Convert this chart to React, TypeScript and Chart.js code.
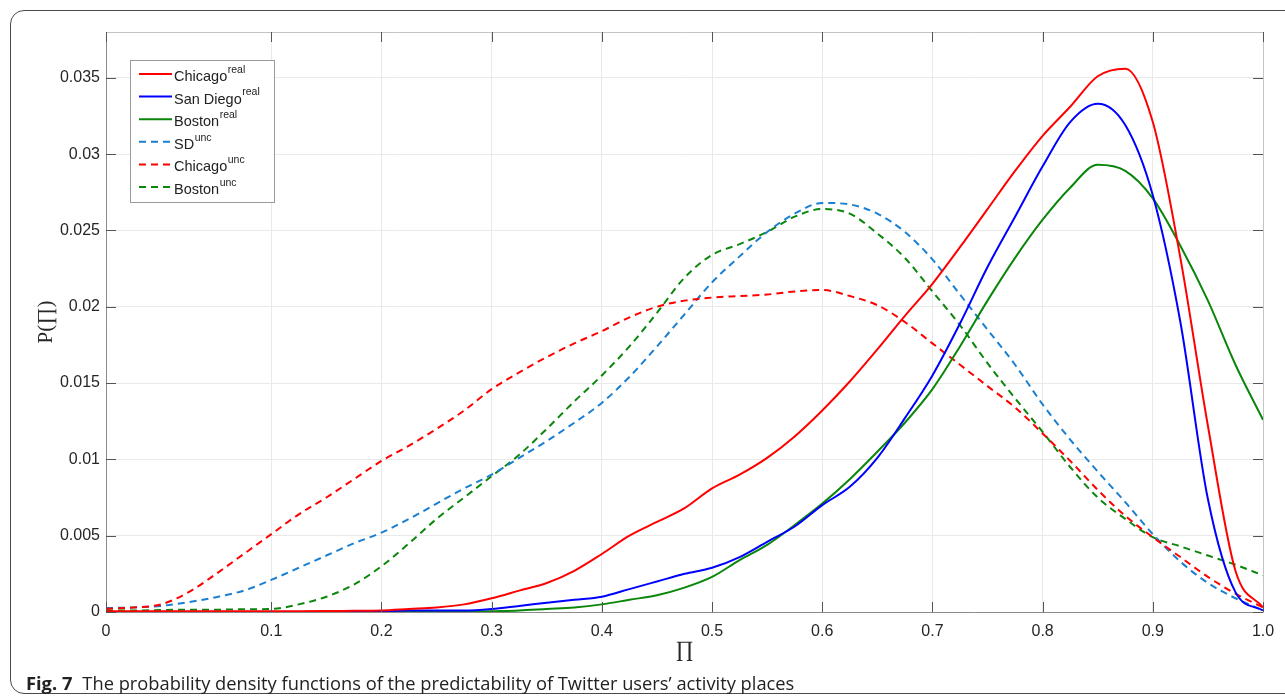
import React, { useEffect, useRef } from 'react';
import { Chart, registerables } from 'chart.js';

Chart.register(...registerables);

// Π axis positions (the axis starts at -0.05, which is labelled "0")
const xValues = [
  -0.05, -0.025, 0, 0.025, 0.05, 0.075, 0.1, 0.125, 0.15, 0.175, 0.2, 0.225, 0.25, 0.275,
  0.3, 0.325, 0.35, 0.375, 0.4, 0.425, 0.45, 0.475, 0.5, 0.525, 0.55, 0.575, 0.6, 0.625,
  0.65, 0.675, 0.7, 0.725, 0.75, 0.775, 0.8, 0.825, 0.85, 0.875, 0.9, 0.925, 0.95, 0.975, 1.0,
];

const chicagoReal = [
  0.00005, 0.00005, 0.00005, 0.00005, 0.00005, 0.00005, 0.00005, 0.00005, 0.00006, 0.00008,
  0.0001, 0.0002, 0.0003, 0.0005, 0.0009, 0.0014, 0.0019, 0.0027, 0.0038, 0.005,
  0.0059, 0.0068, 0.0081, 0.009, 0.0101, 0.0115, 0.0132, 0.0151, 0.0172, 0.0194,
  0.0215, 0.0239, 0.0264, 0.0289, 0.0312, 0.0331, 0.0351, 0.0356, 0.0321, 0.0232,
  0.0122, 0.0027, 0.0003,
];

const sanDiegoReal = [
  0, 0, 0, 0, 0, 0, 0, 0, 0, 0,
  0.00005, 0.0001, 0.0001, 0.0001, 0.0002, 0.0004, 0.0006, 0.0008, 0.001, 0.0015,
  0.002, 0.0025, 0.0029, 0.0036, 0.0046, 0.0056, 0.007, 0.0082, 0.0101, 0.0127,
  0.0155, 0.0189, 0.0226, 0.0259, 0.0292, 0.0321, 0.0333, 0.0319, 0.0273, 0.019,
  0.0074, 0.0013, 0.0001,
];

const bostonReal = [
  0, 0, 0, 0, 0, 0, 0, 0, 0, 0,
  0, 0, 0, 0, 0.00005, 0.0001, 0.0002, 0.0003, 0.0005, 0.0008,
  0.0011, 0.0016, 0.0023, 0.0034, 0.0044, 0.0057, 0.0071, 0.0087, 0.0105, 0.0124,
  0.0146, 0.0174, 0.0204, 0.0232, 0.0257, 0.0278, 0.0293, 0.0289, 0.0271, 0.024,
  0.0204, 0.0162, 0.0126,
];

const sdUnc = [
  0.00026, 0.0003, 0.0004, 0.00065, 0.00097, 0.0014, 0.0021, 0.0029, 0.0037, 0.0045,
  0.0052, 0.0061, 0.0071, 0.0081, 0.009, 0.0101, 0.0112, 0.0124, 0.0137, 0.0154,
  0.0174, 0.0195, 0.0216, 0.0233, 0.0249, 0.0261, 0.0268, 0.0267, 0.0261, 0.0249,
  0.0231, 0.0208, 0.0185, 0.0162, 0.0136, 0.0113, 0.0092, 0.0072, 0.0051, 0.0033,
  0.0019, 0.0009, 0.0001,
];

const chicagoUnc = [
  0.0002, 0.0003, 0.0005, 0.0013, 0.0025, 0.0038, 0.0051, 0.0064, 0.0075, 0.0087,
  0.0099, 0.0109, 0.012, 0.0132, 0.0146, 0.0157, 0.0167, 0.0176, 0.0184, 0.0193,
  0.02, 0.0204, 0.0206, 0.0207, 0.0208, 0.021, 0.0211, 0.0207, 0.0201, 0.019,
  0.0176, 0.0162, 0.0148, 0.0134, 0.0117, 0.0099, 0.008, 0.0063, 0.0049, 0.0036,
  0.0023, 0.0012, 0.0003,
];

const bostonUnc = [
  0.0001, 0.0001, 0.00013, 0.00015, 0.00015, 0.00018, 0.0002, 0.0005, 0.001, 0.0018,
  0.003, 0.0045, 0.0061, 0.0075, 0.0089, 0.0103, 0.012, 0.0138, 0.0155, 0.0174,
  0.0196, 0.0219, 0.0234, 0.0241, 0.0249, 0.0259, 0.0264, 0.0261, 0.0248, 0.0232,
  0.021, 0.0188, 0.0163, 0.014, 0.0118, 0.0095, 0.0075, 0.0061, 0.0049, 0.0043,
  0.0037, 0.0031, 0.0024,
];

const xTickValues = [-0.05, 0.1, 0.2, 0.3, 0.4, 0.5, 0.6, 0.7, 0.8, 0.9, 1.0];
const xTickLabels = ['0', '0.1', '0.2', '0.3', '0.4', '0.5', '0.6', '0.7', '0.8', '0.9', '1.0'];
const yTickLabels = ['0', '0.005', '0.01', '0.015', '0.02', '0.025', '0.03', '0.035'];

const RED = '#ff0000';
const BLUE = '#0000ff';
const GREEN = '#0a870a';
const SKY = '#1a7fd0';
const DASH = [7, 5];

const legendItems = [
  { name: 'Chicago', sup: 'real', color: RED, dashed: false },
  { name: 'San Diego', sup: 'real', color: BLUE, dashed: false },
  { name: 'Boston', sup: 'real', color: GREEN, dashed: false },
  { name: 'SD', sup: 'unc', color: SKY, dashed: true },
  { name: 'Chicago', sup: 'unc', color: RED, dashed: true },
  { name: 'Boston', sup: 'unc', color: GREEN, dashed: true },
];

const SANS = '"Liberation Sans", Arial, sans-serif';
const SERIF = '"Liberation Serif", "DejaVu Serif", serif';

const decorPlugin = {
  id: 'decor',
  afterDraw(chart: any) {
    const ctx = chart.ctx as CanvasRenderingContext2D;
    const { left, right, top, bottom } = chart.chartArea;
    const xs = chart.scales.x;
    const ys = chart.scales.y;
    ctx.save();
    // box
    ctx.lineWidth = 1;
    ctx.strokeStyle = '#c4c4c4';
    ctx.beginPath();
    ctx.moveTo(left, top + 0.5);
    ctx.lineTo(right + 0.5, top + 0.5);
    ctx.lineTo(right + 0.5, bottom);
    ctx.stroke();
    ctx.strokeStyle = '#8a8a8a';
    ctx.beginPath();
    ctx.moveTo(left + 0.5, top);
    ctx.lineTo(left + 0.5, bottom + 0.5);
    ctx.lineTo(right + 0.5, bottom + 0.5);
    ctx.stroke();
    // inward ticks
    ctx.strokeStyle = '#555';
    const TL = 10;
    ctx.beginPath();
    xs.ticks.forEach((t: any) => {
      const p = Math.round(xs.getPixelForValue(t.value)) + 0.5;
      ctx.moveTo(p, bottom);
      ctx.lineTo(p, bottom - TL);
      ctx.moveTo(p, top);
      ctx.lineTo(p, top + TL);
    });
    ys.ticks.forEach((t: any) => {
      const p = Math.round(ys.getPixelForValue(t.value)) + 0.5;
      ctx.moveTo(left, p);
      ctx.lineTo(left + TL, p);
      ctx.moveTo(right, p);
      ctx.lineTo(right - TL, p);
    });
    ctx.stroke();

    // legend
    const lx = left + 24;
    const ly = top + 28;
    const lw = 144;
    const lh = 142;
    ctx.fillStyle = '#ffffff';
    ctx.fillRect(lx, ly, lw, lh);
    ctx.strokeStyle = '#9a9a9a';
    ctx.lineWidth = 1;
    ctx.strokeRect(lx + 0.5, ly + 0.5, lw, lh);
    legendItems.forEach((it, i) => {
      const cy = ly + 14 + i * 22.6;
      ctx.strokeStyle = it.color;
      ctx.lineWidth = 2;
      ctx.setLineDash(it.dashed ? DASH : []);
      ctx.beginPath();
      ctx.moveTo(lx + 9, cy);
      ctx.lineTo(lx + 42, cy);
      ctx.stroke();
      ctx.setLineDash([]);
      ctx.fillStyle = '#222';
      ctx.textBaseline = 'middle';
      ctx.textAlign = 'left';
      ctx.font = `14.5px ${SANS}`;
      ctx.fillText(it.name, lx + 44, cy + 3);
      const w = ctx.measureText(it.name).width;
      ctx.font = `10.5px ${SANS}`;
      ctx.fillText(it.sup, lx + 44 + w + 0.5, cy - 4);
    });

    // axis titles
    ctx.fillStyle = '#262626';
    ctx.font = `21px ${SERIF}`;
    ctx.textAlign = 'center';
    ctx.textBaseline = 'middle';
    ctx.save();
    ctx.translate(46, (top + bottom) / 2);
    ctx.rotate(-Math.PI / 2);
    ctx.fillText('P(\u220F)', 0, 0);
    ctx.restore();
    ctx.font = `22px ${SERIF}`;
    ctx.fillText('\u220F', (left + right) / 2, 650);
    ctx.restore();
  },
};

function line(label: string, data: number[], color: string, dashed: boolean) {
  return {
    label,
    data: xValues.map((x, i) => ({ x, y: data[i] })),
    borderColor: color,
    backgroundColor: color,
    borderWidth: 2,
    borderDash: dashed ? DASH : [],
    pointRadius: 0,
    fill: false,
    cubicInterpolationMode: 'monotone' as const,
    clip: 4,
  };
}

export default function App() {
  const ref = useRef<HTMLCanvasElement | null>(null);
  useEffect(() => {
    if (!ref.current) return;
    const chart = new Chart(ref.current, {
      type: 'line',
      data: {
        datasets: [
          line('Chicago real', chicagoReal, RED, false),
          line('San Diego real', sanDiegoReal, BLUE, false),
          line('Boston real', bostonReal, GREEN, false),
          line('Chicago unc', chicagoUnc, RED, true),
          line('SD unc', sdUnc, SKY, true),
          line('Boston unc', bostonUnc, GREEN, true),
        ],
      },
      options: {
        animation: false,
        responsive: false,
        devicePixelRatio: 1,
        layout: { padding: { top: 32, right: 22, left: 0, bottom: 0 } },
        plugins: { legend: { display: false }, tooltip: { enabled: false } },
        scales: {
          x: {
            type: 'linear',
            min: -0.05,
            max: 1.0,
            afterBuildTicks: (scale: any) => {
              scale.ticks = xTickValues.map((v) => ({ value: v }));
            },
            afterFit: (scale: any) => {
              scale.height = 85;
            },
            ticks: {
              autoSkip: false,
              maxRotation: 0,
              padding: 10,
              color: '#262626',
              font: { family: SANS, size: 16 },
              callback: (_v: any, i: number) => xTickLabels[i],
            },
            grid: { color: '#e9e9e9', drawTicks: false, lineWidth: 1 },
            border: { display: false },
          },
          y: {
            type: 'linear',
            min: 0,
            max: 0.038,
            afterFit: (scale: any) => {
              scale.width = 106;
            },
            ticks: {
              stepSize: 0.005,
              includeBounds: false,
              padding: 6,
              color: '#262626',
              font: { family: SANS, size: 16 },
              callback: (_v: any, i: number) => yTickLabels[i],
            },
            grid: { color: '#e9e9e9', drawTicks: false, lineWidth: 1 },
            border: { display: false },
          },
        },
      } as any,
      plugins: [decorPlugin],
    });
    return () => chart.destroy();
  }, []);

  return (
    <div style={{ position: 'fixed', left: 0, top: 0, width: 1285, height: 697, overflow: 'hidden', background: '#fff' }}>
      <div
        style={{
          position: 'absolute',
          left: 10,
          top: 10,
          width: 1310,
          height: 684,
          border: '1.5px solid #4a4a4a',
          borderRadius: 14,
          boxSizing: 'border-box',
        }}
      />
      <canvas ref={ref} width={1285} height={697} style={{ position: 'absolute', left: 0, top: 0, width: 1285, height: 697 }} />
      <div
        style={{
          position: 'absolute',
          left: 26,
          top: 671,
          fontFamily: '"Open Sans", "Noto Sans", sans-serif',
          fontSize: 18.3,
          lineHeight: '24px',
          color: '#222',
          whiteSpace: 'nowrap',
        }}
      >
        <span style={{ fontWeight: 700 }}>Fig. 7</span>
        <span style={{ marginLeft: 10 }}>The probability density functions of the predictability of Twitter users’ activity places</span>
      </div>
    </div>
  );
}
